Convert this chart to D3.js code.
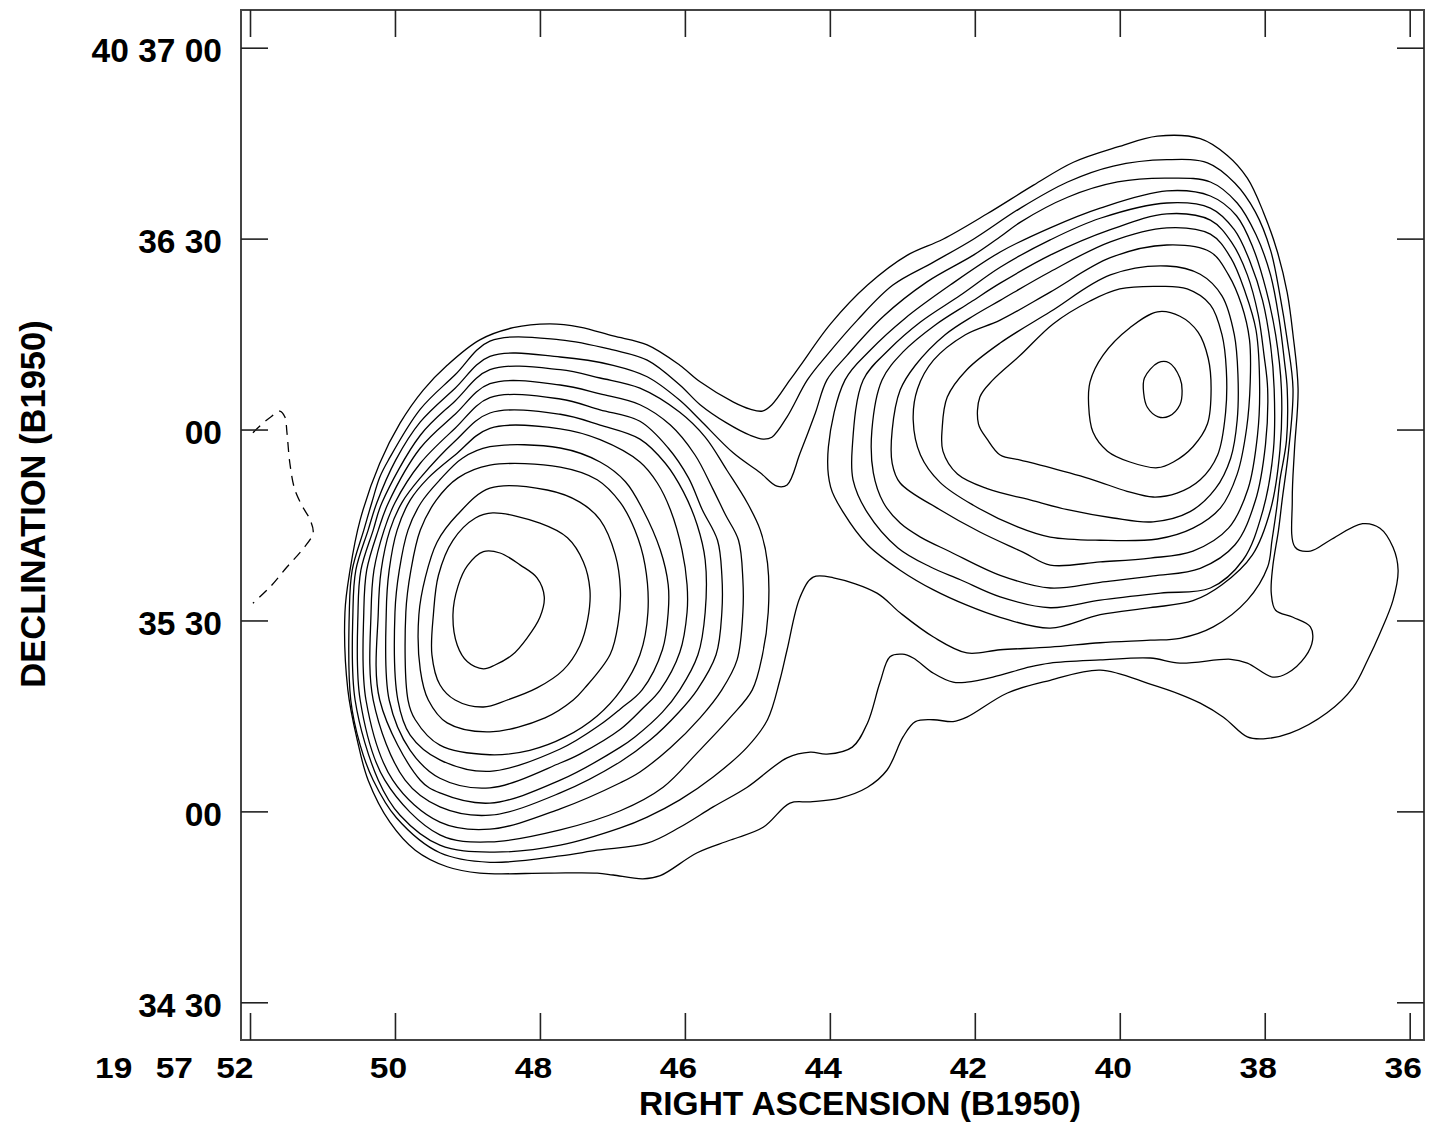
<!DOCTYPE html>
<html>
<head>
<meta charset="utf-8">
<script src="https://cdn.jsdelivr.net/npm/d3@7"></script>
<style>
  body { margin: 0; background: #fff; }
  text { font-family: "Liberation Sans", Arial, sans-serif; font-weight: bold; fill: #000; }
</style>
</head>
<body>
<svg id="chart" width="1431" height="1127"></svg>
<script>
// axis ticks: RA in seconds after 19h57m, Dec in arcsec after 40d34m
const raTicks = [52, 50, 48, 46, 44, 42, 40, 38, 36];
const raLabels = ["19 57 52", "50", "48", "46", "44", "42", "40", "38", "36"];
const decTicks = [30, 60, 90, 120, 150, 180];
const decLabels = ["34 30", "00", "35 30", "00", "36 30", "40 37 00"];

// contours, [RA sec, Dec arcsec]
// eastern component (left), innermost first
const L1 = [[48.78,100.8],[48.55,100.6],[48.27,98.7],[48.04,96.7],[47.94,93.7],[48.00,90.5],[48.18,87.2],[48.38,84.6],[48.62,83.0],[48.78,82.4],[49.00,83.5],[49.14,86.1],[49.20,90.9],[49.13,95.4],[49.00,98.6]];
const L2 = [[48.65,106.9],[48.00,105.3],[47.62,103.0],[47.40,99.2],[47.31,94.8],[47.34,90.2],[47.45,86.0],[47.68,82.2],[48.04,79.4],[48.45,77.5],[48.78,76.4],[49.17,77.5],[49.38,79.9],[49.49,84.6],[49.47,90.9],[49.40,97.1],[49.20,102.6],[48.89,106.1]];
const L3 = [[48.69,110.8],[47.90,110.5],[47.45,108.6],[47.17,105.8],[46.96,100.3],[46.89,94.8],[46.92,89.6],[47.03,84.7],[47.38,79.4],[47.54,77.5],[47.93,74.7],[48.69,72.5],[49.28,73.9],[49.54,77.5],[49.65,82.2],[49.67,90.9],[49.58,96.8],[49.42,102.3],[49.14,106.6]];
const L4 = [[48.69,114.4],[47.72,114.1],[47.21,112.1],[46.89,108.5],[46.69,104.2],[46.55,98.7],[46.51,91.3],[46.62,84.6],[46.88,79.1],[47.21,75.0],[47.65,71.7],[48.14,69.6],[48.69,68.9],[49.38,70.4],[49.72,74.4],[49.82,77.5],[49.85,91.3],[49.78,97.9],[49.65,104.2],[49.43,108.9],[49.13,112.4]];
const L5 = [[48.69,117.3],[47.72,117.1],[47.17,114.9],[46.82,111.8],[46.58,107.4],[46.34,101.1],[46.23,95.6],[46.23,91.3],[46.31,85.4],[46.59,79.1],[46.89,76.1],[47.17,73.6],[47.72,69.8],[48.69,66.3],[49.38,68.1],[49.79,72.0],[49.96,77.5],[50.00,91.3],[49.94,97.9],[49.82,104.2],[49.64,108.5],[49.38,112.1],[49.07,115.5]];
const L6 = [[48.69,120.2],[47.72,120.1],[47.17,118.4],[46.62,114.9],[46.38,111.6],[46.20,107.4],[46.04,101.1],[45.97,95.6],[45.97,91.3],[46.07,85.0],[46.34,79.1],[46.58,76.2],[46.89,72.9],[47.45,69.0],[47.72,67.6],[48.69,63.7],[49.38,65.2],[49.79,69.6],[50.08,77.5],[50.12,91.3],[50.08,97.9],[49.97,104.2],[49.79,108.9],[49.54,112.4],[49.17,116.0]];
const L7 = [[48.69,122.6],[47.72,122.4],[47.17,120.7],[46.62,118.5],[46.27,114.7],[46.02,110.2],[45.83,105.0],[45.72,99.5],[45.72,91.3],[45.82,84.6],[46.07,79.1],[46.31,75.6],[46.69,71.7],[46.89,70.1],[47.72,64.9],[48.69,61.3],[49.38,62.9],[49.65,64.9],[50.21,77.5],[50.23,91.3],[50.19,97.9],[50.07,104.2],[49.90,108.6],[49.65,112.4],[49.17,118.2]];
const L8 = [[48.69,125.0],[47.72,124.8],[47.17,123.1],[46.62,121.3],[46.23,117.1],[45.95,112.4],[45.76,107.4],[45.55,102.6],[45.49,97.1],[45.49,91.3],[45.57,84.6],[45.83,79.1],[46.09,75.5],[46.48,71.2],[46.89,67.8],[47.72,62.9],[48.69,59.4],[49.38,60.7],[49.86,64.9],[50.30,77.5],[50.33,91.3],[50.29,97.9],[50.15,104.2],[50.00,108.5],[49.65,114.7],[49.17,120.2]];
const L9 = [[48.69,127.2],[47.72,127.0],[47.17,125.6],[46.62,123.9],[46.20,120.7],[45.86,116.0],[45.62,110.8],[45.44,106.6],[45.26,102.6],[45.20,96.4],[45.20,91.3],[45.28,83.8],[45.49,79.1],[45.79,74.7],[46.20,70.0],[46.62,66.2],[46.89,64.5],[47.72,60.4],[48.69,57.2],[49.38,58.3],[50.03,64.9],[50.40,77.5],[50.43,91.3],[50.39,97.9],[50.23,104.2],[50.09,108.5],[49.65,117.1],[49.17,122.4]];
const L10 = [[48.69,129.4],[47.72,129.4],[47.17,128.1],[46.62,126.5],[46.07,122.7],[45.72,118.8],[45.42,113.6],[45.14,108.5],[44.96,104.2],[44.86,99.0],[44.85,91.3],[44.93,84.6],[45.07,79.1],[45.37,74.8],[45.83,69.2],[46.30,63.8],[46.89,60.1],[47.72,57.1],[48.69,55.2],[49.38,56.3],[50.14,64.9],[50.48,77.5],[50.51,91.3],[50.47,97.9],[50.30,104.2],[50.18,108.5],[49.65,119.1],[49.17,124.5]];

// western component (right), innermost first
const R1 = [[39.47,130.5],[39.32,130.5],[39.17,128.1],[39.14,126.1],[39.17,123.9],[39.32,122.1],[39.47,122.0],[39.62,123.5],[39.67,125.7],[39.66,128.1]];
const R2 = [[39.48,138.5],[39.17,137.8],[38.92,135.3],[38.78,131.2],[38.74,126.4],[38.79,120.9],[38.99,117.3],[39.26,114.9],[39.48,114.0],[39.86,114.9],[40.17,116.6],[40.37,119.6],[40.43,123.9],[40.41,127.5],[40.23,131.7],[39.86,136.0]];
const R3 = [[39.44,142.5],[39.07,142.1],[38.75,139.6],[38.59,134.9],[38.53,129.4],[38.54,122.7],[38.65,116.0],[38.89,112.1],[39.21,110.0],[39.54,109.4],[39.90,110.3],[40.37,112.1],[40.96,114.0],[41.37,115.2],[41.65,116.0],[41.83,118.5],[41.95,120.9],[41.93,125.1],[41.75,127.8],[41.37,131.7],[40.92,136.6],[40.41,140.2],[40.00,142.1]];
const R4 = [[39.35,145.7],[38.89,144.4],[38.59,141.0],[38.42,134.9],[38.37,128.7],[38.38,121.5],[38.47,115.5],[38.68,110.7],[39.03,107.1],[39.54,105.5],[40.09,106.1],[40.72,107.4],[41.19,108.8],[41.83,110.7],[42.24,113.0],[42.44,116.6],[42.45,120.2],[42.38,125.1],[42.11,129.4],[41.65,133.6],[40.96,138.5],[40.13,144.3]];
const R5 = [[39.35,149.0],[38.75,147.9],[38.50,144.3],[38.32,139.6],[38.21,134.1],[38.20,127.5],[38.25,120.2],[38.38,113.0],[38.61,107.7],[38.99,104.5],[39.48,102.8],[40.27,102.6],[40.96,103.1],[41.41,104.7],[42.02,108.1],[42.48,111.7],[42.75,116.0],[42.85,121.5],[42.79,126.4],[42.57,130.9],[42.13,134.9],[41.65,137.2],[40.96,141.6],[40.13,147.0]];
const R6 = [[39.35,151.7],[38.75,150.7],[38.47,147.0],[38.27,141.6],[38.12,135.6],[38.07,126.4],[38.10,119.1],[38.23,110.7],[38.50,104.5],[38.99,100.9],[39.58,99.8],[40.27,99.2],[40.96,98.7],[41.33,100.7],[41.93,103.9],[42.48,107.4],[43.03,111.6],[43.14,114.7],[43.14,119.9],[43.03,126.2],[42.82,130.1],[42.41,134.9],[42.00,138.0],[41.65,140.3],[40.96,144.8],[40.13,149.5]];
const R7 = [[39.35,153.9],[38.75,152.9],[38.45,149.3],[38.24,144.3],[38.09,138.0],[38.01,131.7],[37.96,126.4],[37.99,117.6],[38.13,108.8],[38.41,101.9],[38.89,98.2],[39.54,97.0],[40.27,96.0],[40.96,95.1],[41.65,97.1],[42.34,100.8],[42.75,103.1],[43.03,105.3],[43.26,108.5],[43.40,113.2],[43.42,119.9],[43.28,127.8],[42.99,132.2],[42.55,136.4],[42.06,140.0],[41.65,143.0],[40.96,147.4],[40.13,151.4]];
const R8 = [[39.35,155.6],[38.75,154.8],[38.42,151.4],[38.20,146.3],[38.03,140.3],[37.92,133.3],[37.87,126.4],[37.88,116.8],[38.03,107.1],[38.30,99.5],[38.75,95.1],[39.44,94.3],[40.27,93.2],[40.96,92.0],[41.65,93.7],[42.20,96.4],[42.61,98.4],[43.06,101.4],[43.48,106.9],[43.68,112.1],[43.69,117.3],[43.54,127.8],[43.19,132.5],[42.75,136.9],[42.20,141.1],[41.65,145.5],[40.96,149.8],[40.27,153.2]];
const R9 = [[39.35,157.5],[38.75,156.7],[38.39,153.6],[38.16,148.5],[37.98,141.9],[37.85,134.9],[37.77,126.4],[37.79,116.8],[37.92,107.4],[38.17,100.3],[38.59,95.6],[38.99,93.1],[39.58,92.0],[40.27,90.9],[40.96,88.8],[41.65,90.5],[42.11,92.4],[42.57,94.8],[43.03,97.9],[43.48,101.9],[43.81,106.9],[43.99,111.0],[44.02,117.3],[43.79,127.8],[43.44,132.5],[42.96,137.5],[42.34,142.7],[41.65,147.9],[40.96,151.7],[40.27,154.8]];

// lowest levels, enclosing both components
const B3 = [[50.58,91.3],[50.54,97.9],[50.37,104.2],[50.25,108.5],[49.99,115.2],[49.65,121.2],[49.17,126.5],[48.69,131.5],[47.72,131.4],[46.99,130.1],[46.52,128.3],[46.07,124.6],[45.79,121.5],[45.33,116.3],[44.96,113.2],[44.73,111.1],[44.59,111.3],[44.41,116.3],[44.20,122.6],[44.04,127.8],[43.76,131.7],[43.26,137.8],[42.66,143.2],[42.02,147.4],[41.65,150.3],[41.37,152.6],[40.72,156.5],[40.03,158.9],[39.35,159.5],[38.75,158.9],[38.38,155.6],[38.12,150.6],[37.92,144.3],[37.80,137.2],[37.73,130.9],[37.69,126.4],[37.70,118.3],[37.79,112.1],[37.83,108.1],[37.90,102.6],[37.96,98.4],[38.24,93.2],[38.71,89.0],[39.17,87.2],[39.58,86.9],[40.27,86.5],[40.96,85.8],[41.65,85.4],[42.11,84.9],[42.57,87.4],[43.03,91.2],[43.35,94.3],[43.95,96.7],[44.23,96.8],[44.41,93.7],[44.59,85.4],[44.69,80.6],[44.86,74.4],[45.14,70.1],[45.61,65.4],[46.07,61.8],[46.52,59.1],[46.89,57.4],[47.72,54.7],[48.69,53.6],[49.38,54.7],[49.93,59.4],[50.23,64.9],[50.55,77.5]];
const B2 = [[50.63,91.3],[50.61,77.5],[50.48,70.4],[50.30,64.9],[49.98,59.0],[49.38,53.5],[48.69,52.0],[47.72,53.0],[47.21,53.9],[46.52,55.0],[46.07,57.5],[45.61,60.7],[45.14,63.8],[44.59,68.4],[44.27,69.3],[44.04,69.0],[43.69,70.1],[43.48,73.9],[43.31,80.2],[43.17,84.3],[43.00,84.7],[42.85,84.1],[42.57,81.7],[42.30,80.3],[42.11,80.3],[41.75,81.1],[41.24,82.7],[40.96,83.3],[40.27,83.8],[39.58,84.1],[39.17,83.3],[38.47,83.9],[38.24,83.3],[37.89,81.1],[37.69,81.7],[37.44,84.3],[37.34,86.9],[37.37,89.0],[37.61,90.5],[37.85,91.6],[37.91,94.3],[37.89,98.4],[37.81,104.2],[37.76,108.9],[37.67,116.8],[37.61,126.4],[37.69,134.1],[37.79,141.1],[37.92,148.2],[38.13,154.2],[38.41,158.7],[38.79,161.9],[39.35,162.4],[40.09,161.4],[40.72,158.9],[41.37,154.8],[42.02,149.9],[42.57,146.3],[43.13,142.7],[43.62,137.2],[44.04,131.7],[44.31,127.8],[44.59,122.0],[44.80,118.8],[44.92,118.5],[45.10,119.1],[45.42,121.0],[45.79,123.9],[46.07,127.0],[46.52,130.9],[46.99,132.5],[47.72,134.1],[48.69,133.9],[49.17,128.6],[49.65,123.2],[50.09,115.2],[50.21,112.5],[50.32,108.5],[50.43,104.2],[50.59,97.9]];
const B1 = [[50.69,91.3],[50.65,79.1],[50.52,71.2],[50.37,64.9],[50.07,58.3],[49.72,53.9],[49.28,51.3],[48.83,50.3],[47.90,50.3],[47.21,50.3],[46.99,50.0],[46.58,49.4],[46.34,49.9],[45.83,53.5],[45.37,55.5],[44.92,57.5],[44.55,61.3],[44.27,61.5],[43.86,62.1],[43.48,63.8],[43.21,66.5],[42.99,71.7],[42.82,74.1],[42.57,74.4],[42.30,74.1],[42.11,74.8],[41.55,78.6],[40.96,80.6],[40.27,82.2],[39.58,80.0],[39.17,78.4],[38.89,77.0],[38.57,74.8],[38.24,71.7],[38.02,71.4],[37.65,72.3],[37.14,75.5],[36.78,79.5],[36.58,83.8],[36.41,88.0],[36.23,93.2],[36.16,97.9],[36.23,101.5],[36.41,104.5],[36.65,105.2],[37.10,102.6],[37.37,100.9],[37.58,101.5],[37.62,108.9],[37.59,116.8],[37.54,126.4],[37.61,134.9],[37.69,141.5],[37.83,148.1],[38.02,154.2],[38.24,159.5],[38.52,163.1],[38.89,165.7],[39.48,166.1],[40.03,164.4],[40.64,162.0],[41.19,158.4],[41.83,153.9],[42.44,149.9],[42.93,147.4],[43.48,142.7],[43.99,136.6],[44.41,130.0],[44.55,127.8],[44.80,123.9],[44.93,122.9],[45.10,123.2],[45.33,124.3],[45.79,127.5],[46.07,130.1],[46.52,133.3],[46.99,134.7],[47.45,136.1],[47.86,136.6],[48.37,136.0],[48.83,134.1],[49.28,130.1],[49.61,126.2],[49.93,121.0],[50.21,114.7],[50.48,105.8],[50.62,97.9]];

// negative contour at the map edge (open, dashed)
const NEG1 = [[51.96,119.5],[51.82,121.0],[51.70,122.1],[51.59,122.9],[51.52,122.0],[51.49,119.5],[51.45,114.7],[51.38,110.5],[51.27,107.8],[51.17,105.8],[51.13,103.7],[51.28,101.1],[51.49,98.4],[51.72,95.3],[51.96,92.7]];

const closedContours = [B1, B2, B3, L10, L9, L8, L7, L6, L5, L4, L3, L2, L1, R9, R8, R7, R6, R5, R4, R3, R2, R1];
const negContours = [NEG1];

const frame = {left: 241, right: 1424, top: 10, bottom: 1040};

const x = d3.scaleLinear().domain([52, 36]).range([250, 1409.7]);
const y = d3.scaleLinear().domain([30, 180]).range([1002.3, 47.7]);

const svg = d3.select("#chart");

svg.append("defs").append("clipPath").attr("id", "plotclip")
  .append("rect")
  .attr("x", frame.left).attr("y", frame.top)
  .attr("width", frame.right - frame.left).attr("height", frame.bottom - frame.top);

const closedLine = d3.line()
  .x(d => x(d[0])).y(d => y(d[1]))
  .curve(d3.curveCatmullRomClosed.alpha(0.5));
const openLine = d3.line()
  .x(d => x(d[0])).y(d => y(d[1]))
  .curve(d3.curveCatmullRom.alpha(0.5));

const plot = svg.append("g").attr("clip-path", "url(#plotclip)");

plot.selectAll("path.pos")
  .data(closedContours)
  .join("path")
  .attr("class", "pos")
  .attr("d", closedLine)
  .attr("fill", "none")
  .attr("stroke", "#000")
  .attr("stroke-width", 1.3);

plot.selectAll("path.neg")
  .data(negContours)
  .join("path")
  .attr("class", "neg")
  .attr("d", openLine)
  .attr("fill", "none")
  .attr("stroke", "#000")
  .attr("stroke-width", 1.3)
  .attr("stroke-dasharray", "10,7");

// frame
svg.append("rect")
  .attr("x", frame.left).attr("y", frame.top)
  .attr("width", frame.right - frame.left).attr("height", frame.bottom - frame.top)
  .attr("fill", "none").attr("stroke", "#444").attr("stroke-width", 2);

function styleTicks(g) {
  g.select(".domain").remove();
  g.selectAll(".tick line").attr("stroke", "#222").attr("stroke-width", 1.6);
}

// bottom axis with labels (labels a little squat, as in the original plot)
const labelSquash = 0.88;
const gBottom = svg.append("g")
  .attr("transform", `translate(0,${frame.bottom})`)
  .call(d3.axisBottom(x).tickValues(raTicks).tickSize(-27).tickFormat((d, i) => raLabels[i]));
styleTicks(gBottom);
gBottom.selectAll(".tick text")
  .attr("font-size", 33.5)
  .attr("transform", `scale(1,${labelSquash})`)
  .attr("y", 38 / labelSquash).attr("dy", 0).attr("x", -7);
gBottom.selectAll(".tick text").filter((d, i) => i === 0)
  .attr("text-anchor", "end").attr("x", 3).attr("word-spacing", 14);

// top axis, ticks only
const gTop = svg.append("g")
  .attr("transform", `translate(0,${frame.top})`)
  .call(d3.axisTop(x).tickValues(raTicks).tickSize(-27).tickFormat(""));
styleTicks(gTop);

// left axis with labels
const gLeft = svg.append("g")
  .attr("transform", `translate(${frame.left},0)`)
  .call(d3.axisLeft(y).tickValues(decTicks).tickSize(-27).tickFormat((d, i) => decLabels[i]));
styleTicks(gLeft);
gLeft.selectAll(".tick text")
  .attr("font-size", 33.5)
  .attr("x", -19).attr("dy", 14);

// right axis, ticks only
const gRight = svg.append("g")
  .attr("transform", `translate(${frame.right},0)`)
  .call(d3.axisRight(y).tickValues(decTicks).tickSize(-27).tickFormat(""));
styleTicks(gRight);

// axis titles
svg.append("text")
  .attr("x", 860).attr("y", 1115)
  .attr("text-anchor", "middle")
  .attr("font-size", 33.5)
  .text("RIGHT ASCENSION (B1950)");

svg.append("text")
  .attr("transform", "translate(45,504) rotate(-90)")
  .attr("text-anchor", "middle")
  .attr("font-size", 34.5)
  .text("DECLINATION (B1950)");
</script>
</body>
</html>
